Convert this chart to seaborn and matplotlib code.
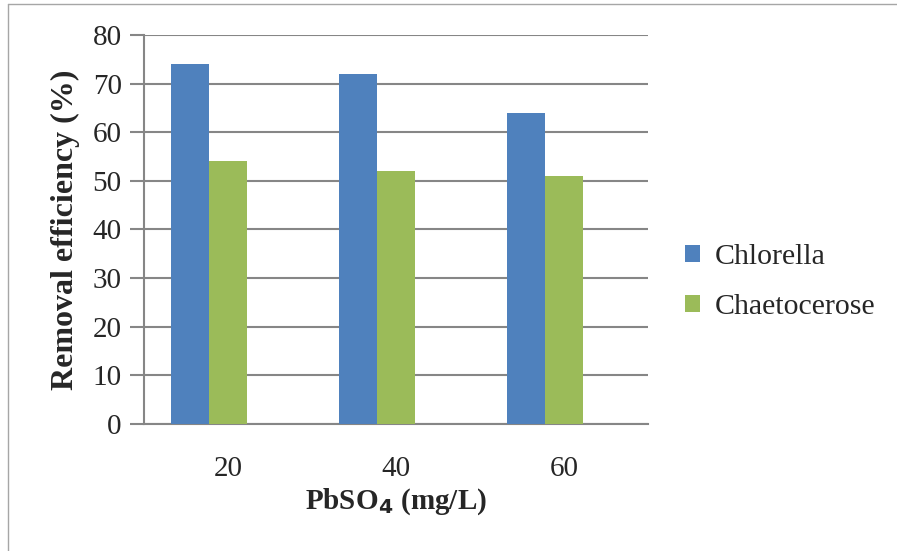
import pandas as pd
import matplotlib.pyplot as plt
import seaborn as sns
from matplotlib.lines import Line2D

# values
concentrations = ['20', '40', '60']
chlorella = [74, 72, 64]
chaetocerose = [54, 52, 51]
y_ticks = [0, 10, 20, 30, 40, 50, 60, 70, 80]

df = pd.DataFrame({
    'PbSO4': concentrations * 2,
    'Removal': chlorella + chaetocerose,
    'Species': ['Chlorella'] * 3 + ['Chaetocerose'] * 3,
})

sns.set_style('white')
plt.rcParams['font.family'] = ['Liberation Serif', 'DejaVu Serif']

grid_c = '#868686'

fig = plt.figure(figsize=(8.97, 5.51), dpi=100)
ax = fig.add_axes([0.1605, 0.2305, 0.5619, 0.706])

# the Excel original keeps a third (empty) slot in each group
sns.barplot(data=df, x='PbSO4', y='Removal', hue='Species',
            hue_order=['Chlorella', 'Chaetocerose', ' '],
            palette=['#4F81BD', '#9BBB59', '#C0504D'], width=0.679, gap=0,
            saturation=1, edgecolor='none', linewidth=0, ax=ax, zorder=3)

ax.set_xlim(-0.5, 2.5)
ax.set_ylim(0, 80)
ax.set_yticks(y_ticks)
ax.yaxis.grid(True, color=grid_c, linewidth=1.5, zorder=0)
ax.set_axisbelow(True)

for s in ['top', 'right']:
    ax.spines[s].set_visible(False)
for s in ['left', 'bottom']:
    ax.spines[s].set_color(grid_c)
    ax.spines[s].set_linewidth(1.5)

ax.tick_params(axis='y', direction='out', length=10, width=1.5, color=grid_c,
               labelsize=21, pad=6, left=True)
ax.tick_params(axis='x', length=0, labelsize=21, pad=23)

ax.set_ylabel('Removal efficiency (%)', fontsize=23, fontweight='bold', labelpad=9)
ax.set_xlabel('PbSO$_\\mathbf{4}$ (mg/L)', fontsize=21, fontweight='bold', labelpad=3)

handles, labels = ax.get_legend_handles_labels()
ax.legend(handles[:2], labels[:2], loc='center left', bbox_to_anchor=(1.043, 0.365),
          frameon=False, fontsize=21.5, borderpad=0, handlelength=0.5,
          handleheight=0.5, handletextpad=0.5, labelspacing=0.78)

# light frame on left and top of the picture
fig.add_artist(Line2D([0.0085, 0.0085], [0, 0.993], transform=fig.transFigure,
                      color='#A6A6A6', linewidth=1))
fig.add_artist(Line2D([0.0085, 1], [0.993, 0.993], transform=fig.transFigure,
                      color='#A6A6A6', linewidth=1))

fig.savefig('out.png', dpi=100)
